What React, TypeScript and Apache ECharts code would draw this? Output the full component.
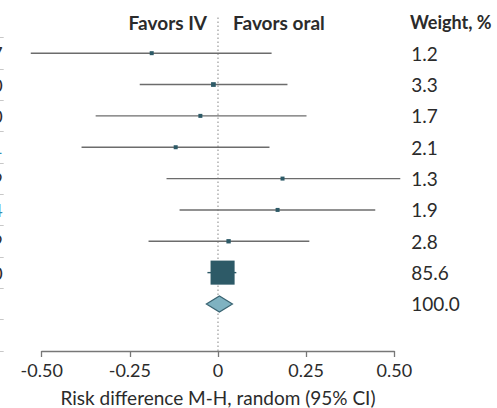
import React, { useEffect, useRef } from "react";
import * as echarts from "echarts";

// rows: 7 studies, pooled subgroup, overall, then one empty row
const rowLabels = ["2007", "2010", "2010", "2011", "2009", "2014", "2009", "2010", "", ""];
const tealRows = [3, 5];
const weights = ["1.2", "3.3", "1.7", "2.1", "1.3", "1.9", "2.8", "85.6", "100.0", ""];
const weightValues = [1.2, 3.3, 1.7, 2.1, 1.3, 1.9, 2.8, 85.6, 100.0];
const lowerCI = [-0.531, -0.222, -0.347, -0.387, -0.146, -0.109, -0.197, -0.03, -0.033];
const upperCI = [0.152, 0.197, 0.251, 0.146, 0.517, 0.446, 0.259, 0.052, 0.041];
const estimates = [-0.188, -0.013, -0.05, -0.12, 0.183, 0.169, 0.03, 0.013, 0.004];
const kinds = ["study", "study", "study", "study", "study", "study", "study", "pooled", "overall"];
const xTicks = [-0.5, -0.25, 0, 0.25, 0.5];

const FONT = "Lato";
const TEXT = "#2b2b2b";

export default function App() {
  const ref = useRef<HTMLDivElement>(null);
  useEffect(() => {
    if (!ref.current) return;
    const chart = echarts.init(ref.current, null, { renderer: "svg" });
    const data = estimates.map((e, i) => [lowerCI[i], upperCI[i], e, i, weightValues[i], kinds[i]]);
    const fmt = (v: number) => (v === 0 ? "0" : v.toFixed(2));
    chart.setOption({
      animation: false,
      textStyle: { fontFamily: FONT },
      grid: [
        { left: 41.7, right: 102.7, top: 37.5, bottom: 57, containLabel: false, outerBoundsMode: "none" },
        { left: 41.7, right: 102.7, top: 15, bottom: 57, containLabel: false, outerBoundsMode: "none" },
      ],
      xAxis: [
        {
          type: "value",
          gridIndex: 0,
          min: -0.5,
          max: 0.5,
          interval: 0.25,
          axisLine: { show: true, onZero: false, lineStyle: { color: "#777", width: 1.3 } },
          axisTick: { show: true, length: 6, lineStyle: { color: "#777", width: 1.3 } },
          splitLine: { show: false },
          axisLabel: {
            color: TEXT,
            fontSize: 18,
            margin: 10,
            fontFamily: FONT,
            formatter: (v: number) => (xTicks.includes(v) ? fmt(v) : ""),
          },
          name: "Risk difference M-H, random (95% CI)",
          nameLocation: "middle",
          nameGap: 37,
          nameTextStyle: { color: TEXT, fontSize: 19, fontFamily: FONT },
        },
        { type: "value", gridIndex: 1, min: -0.5, max: 0.5, show: false },
      ],
      yAxis: [
        {
          type: "category",
          gridIndex: 0,
          data: rowLabels,
          inverse: true,
          position: "left",
          offset: 38,
          axisLine: { show: false, onZero: false },
          axisTick: { show: true, length: 4, lineStyle: { color: "#c8c8c8" } },
          axisLabel: {
            margin: 1,
            fontSize: 18,
            fontFamily: FONT,
            color: (_v: string, idx: number) => (tealRows.includes(idx) ? "#3a8db0" : TEXT),
          },
        },
        {
          type: "category",
          gridIndex: 0,
          data: weights,
          inverse: true,
          position: "right",
          axisLine: { show: false, onZero: false },
          axisTick: { show: false },
          axisLabel: { margin: 17, fontSize: 19, color: TEXT, fontFamily: FONT, align: "left" },
        },
        { type: "value", gridIndex: 1, min: 0, max: 1, show: false },
      ],
      series: [
        {
          type: "line",
          xAxisIndex: 1,
          yAxisIndex: 2,
          data: [
            [0, 0],
            [0, 1],
          ],
          symbol: "none",
          lineStyle: { color: "#9a9a9a", width: 1.2, type: [1.5, 2.5] },
          silent: true,
          z: 1,
        },
        {
          type: "custom",
          xAxisIndex: 0,
          yAxisIndex: 0,
          data,
          encode: { x: [0, 1, 2], y: 3 },
          z: 3,
          renderItem: (params: any, api: any) => {
            const lo = api.value(0);
            const hi = api.value(1);
            const est = api.value(2);
            const row = api.value(3);
            const w = api.value(4);
            const kind = data[params.dataIndex][5];
            const pLo = api.coord([lo, row]);
            const pHi = api.coord([hi, row]);
            const pE = api.coord([est, row]);
            if (kind === "overall") {
              const h = 8;
              return {
                type: "polygon",
                shape: {
                  points: [
                    [pLo[0], pE[1]],
                    [pE[0], pE[1] - h],
                    [pHi[0], pE[1]],
                    [pE[0], pE[1] + h],
                  ],
                },
                style: { fill: "#7fb2c1", stroke: "#3a6472", lineWidth: 1.2 },
              };
            }
            const size = Math.max(4, 2.6 * Math.sqrt(w));
            const lineColor = kind === "pooled" ? "#2d5866" : "#6c6c6c";
            return {
              type: "group",
              children: [
                {
                  type: "line",
                  shape: { x1: pLo[0], y1: pLo[1], x2: pHi[0], y2: pHi[1] },
                  style: { stroke: lineColor, lineWidth: 1.4 },
                },
                {
                  type: "rect",
                  shape: { x: pE[0] - size / 2, y: pE[1] - size / 2, width: size, height: size },
                  style: { fill: "#2d5a67" },
                },
              ],
            };
          },
        },
      ],
      graphic: [
        {
          type: "text",
          x: 207,
          y: 22,
          style: {
            text: "Favors IV",
            fill: TEXT,
            font: `bold 19px ${FONT}`,
            align: "right",
            verticalAlign: "middle",
          },
        },
        {
          type: "text",
          x: 233,
          y: 22,
          style: {
            text: "Favors oral",
            fill: TEXT,
            font: `bold 19px ${FONT}`,
            align: "left",
            verticalAlign: "middle",
          },
        },
        {
          type: "text",
          x: 410,
          y: 22,
          style: {
            text: "Weight, %",
            fill: TEXT,
            font: `bold 18px ${FONT}`,
            align: "left",
            verticalAlign: "middle",
          },
        },
      ],
    });
    return () => chart.dispose();
  }, []);
  return (
    <div
      ref={ref}
      style={{ position: "fixed", left: 0, top: 0, width: 497, height: 408, background: "#fff" }}
    />
  );
}
